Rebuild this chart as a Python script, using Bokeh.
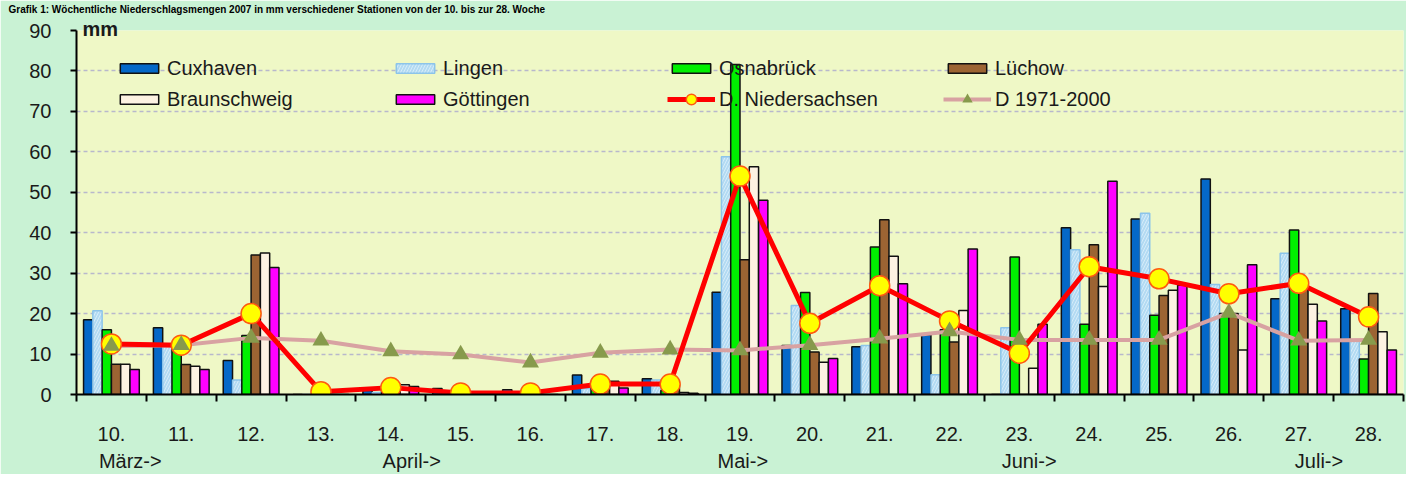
from bokeh.plotting import figure
from bokeh.models import (ColumnDataSource, FixedTicker, Legend, LegendItem, Range1d,
                          LinearAxis, Title)
from bokeh.transform import dodge
from bokeh.embed import file_html
from bokeh.resources import INLINE

title_text = "Grafik 1: Wöchentliche Niederschlagsmengen 2007 in mm verschiedener Stationen von der 10. bis zur 28. Woche"
weeks = ["10.", "11.", "12.", "13.", "14.", "15.", "16.", "17.", "18.", "19.",
         "20.", "21.", "22.", "23.", "24.", "25.", "26.", "27.", "28."]
cuxhaven = [18.5, 16.5, 8.4, 0, 1.0, 1.5, 1.2, 4.8, 3.9, 25.3, 12.1, 11.8, 14.8, 0, 41.2, 43.4, 53.3, 23.7, 21.2]
lingen = [20.7, 12.5, 3.6, 0, 0.5, 0, 0, 1.5, 3.6, 58.8, 22.0, 12.1, 4.9, 16.5, 35.8, 44.8, 27.2, 34.9, 13.5]
osnabrueck = [16.0, 11.5, 14.6, 0, 1.5, 0, 0, 2.0, 1.0, 81.6, 25.2, 36.5, 16.0, 34.0, 17.4, 19.6, 20.0, 40.7, 8.8]
luechow = [7.5, 7.4, 34.5, 0, 2.6, 0, 0, 2.5, 2.5, 33.3, 10.5, 43.2, 13.0, 0, 37.0, 24.5, 20.0, 28.0, 25.0]
braunschweig = [7.5, 7.0, 35.0, 0, 2.4, 0, 0, 3.3, 0.5, 56.3, 8.0, 34.2, 20.8, 6.5, 26.7, 25.8, 11.0, 22.3, 15.5]
goettingen = [6.2, 6.2, 31.4, 0, 2.0, 0, 0, 1.6, 0.3, 48.0, 8.9, 27.4, 36.0, 17.4, 52.7, 27.0, 32.1, 18.2, 11.0]
niedersachsen = [12.5, 12.2, 20.0, 0.7, 1.7, 0.4, 0.4, 2.6, 2.6, 54.0, 17.6, 26.9, 18.2, 10.2, 31.6, 28.6, 24.9, 27.5, 19.2]
d1971_2000 = [12.0, 12.2, 14.0, 13.3, 10.7, 9.9, 7.9, 10.3, 11.1, 10.9, 12.2, 13.8, 15.6, 13.5, 13.5, 13.5, 20.2, 13.3, 13.5]
months = ["März->", "April->", "Mai->", "Juni->", "Juli->"]
month_x = [0.27, 4.3, 9.04, 13.14, 17.29]
unit_label = "mm"
unit_x = -0.16

FONT = "Liberation Sans"
TXT = "#1A1A1A"
xs = list(range(len(weeks)))
src = ColumnDataSource(dict(x=xs, cux=cuxhaven, lin=lingen, osn=osnabrueck, lue=luechow,
                            bra=braunschweig, goe=goettingen, nds=niedersachsen, clim=d1971_2000))

p = figure(width=1406, height=474, x_range=Range1d(-0.5, 18.5), y_range=Range1d(0, 90),
           output_backend="svg", toolbar_location=None,
           min_border_left=76, min_border_right=3, min_border_top=30, min_border_bottom=79)
p.background_fill_color = "#EFF8C6"
p.border_fill_color = "#C9F2D4"
p.outline_line_color = None

bw = 0.133
offs = [-2.5 * bw, -1.5 * bw, -0.5 * bw, 0.5 * bw, 1.5 * bw, 2.5 * bw]
r_cux = p.vbar(x=dodge('x', offs[0], range=p.x_range), top='cux', width=bw, source=src,
               fill_color="#0568C8", line_color="#111111", line_width=1.5)
r_lin = p.vbar(x=dodge('x', offs[1], range=p.x_range), top='lin', width=bw, source=src,
               fill_color="#B2DAF2", line_color="#8CC4EA", line_width=1.5,
               hatch_pattern="right_diagonal_line", hatch_color="#E6F4FC", hatch_alpha=0.7,
               hatch_scale=6, hatch_weight=1)
r_osn = p.vbar(x=dodge('x', offs[2], range=p.x_range), top='osn', width=bw, source=src,
               fill_color="#00F000", line_color="#111111", line_width=1.5)
r_lue = p.vbar(x=dodge('x', offs[3], range=p.x_range), top='lue', width=bw, source=src,
               fill_color="#9C6433", line_color="#111111", line_width=1.5)
r_bra = p.vbar(x=dodge('x', offs[4], range=p.x_range), top='bra', width=bw, source=src,
               fill_color="#FDF2E2", line_color="#111111", line_width=1.5)
r_goe = p.vbar(x=dodge('x', offs[5], range=p.x_range), top='goe', width=bw, source=src,
               fill_color="#FF00FF", line_color="#111111", line_width=1.5)

r_clim_line = p.line('x', 'clim', source=src, line_color="#D8A2A2", line_width=4)
r_nds_line = p.line('x', 'nds', source=src, line_color="#FF0000", line_width=5)
r_nds_pts = p.scatter('x', 'nds', source=src, marker="circle", size=20,
                      fill_color="#FFFF00", line_color="#FF5A10", line_width=1.5)
r_clim_pts = p.scatter('x', 'clim', source=src, marker="triangle", size=17,
                       fill_color="#879A4C", line_color=None)

# grid
p.xgrid.visible = False
p.ygrid.ticker = FixedTicker(ticks=list(range(10, 91, 10)))
p.ygrid.grid_line_color = "#B8B8CC"
p.ygrid.grid_line_dash = "4 3"
p.ygrid.grid_line_width = 1.5

# y axis
ya = p.yaxis[0]
ya.ticker = FixedTicker(ticks=list(range(0, 91, 10)))
ya.axis_line_width = 2
ya.axis_line_color = "#000000"
ya.major_tick_out = 6
ya.major_tick_in = 0
ya.major_tick_line_width = 2
ya.minor_tick_line_color = None
ya.major_label_text_font = FONT
ya.major_label_text_font_size = "20px"
ya.major_label_text_color = TXT
ya.major_label_standoff = 19

# x axis (weeks)
xa = p.xaxis[0]
xa.ticker = FixedTicker(ticks=xs, minor_ticks=[i - 0.5 for i in range(len(weeks) + 1)])
xa.major_label_overrides = {i: w for i, w in enumerate(weeks)}
xa.axis_line_width = 2
xa.axis_line_color = "#000000"
xa.major_tick_line_color = None
xa.major_tick_out = 0
xa.major_tick_in = 0
xa.minor_tick_out = 7
xa.minor_tick_in = 0
xa.minor_tick_line_width = 2
xa.minor_tick_line_color = "#000000"
xa.major_label_text_font = FONT
xa.major_label_text_font_size = "20px"
xa.major_label_text_color = TXT
xa.major_label_standoff = 25

# month axis (second row below)
max_ = LinearAxis(ticker=FixedTicker(ticks=month_x),
                  major_label_overrides={mx: m for mx, m in zip(month_x, months)})
max_.axis_line_color = None
max_.major_tick_line_color = None
max_.minor_tick_line_color = None
max_.major_tick_out = 0
max_.major_tick_in = 0
max_.major_label_text_font = FONT
max_.major_label_text_font_size = "20px"
max_.major_label_text_color = TXT
max_.major_label_standoff = 6
p.add_layout(max_, "below")

# unit label "mm" at the top of the y axis
ua = LinearAxis(ticker=FixedTicker(ticks=[unit_x]), major_label_overrides={unit_x: unit_label})
ua.axis_line_color = None
ua.major_tick_line_color = None
ua.minor_tick_line_color = None
ua.major_tick_out = 0
ua.major_tick_in = 0
ua.major_label_text_font = FONT
ua.major_label_text_font_size = "20px"
ua.major_label_text_font_style = "bold"
ua.major_label_text_color = TXT
ua.major_label_standoff = -9
p.add_layout(ua, "above")

# title (in the source image it is cut off at the top edge)
t = Title(text=title_text, align="left", offset=-68, standoff=0,
          text_font=FONT, text_font_size="10px", text_font_style="bold", text_color="#000000")
p.add_layout(t, "above")

# legends
def make_legend(items, x, y, gh):
    leg = Legend(items=items, orientation="horizontal", location=(x, y))
    leg.glyph_width = 48
    leg.glyph_height = gh
    leg.label_standoff = 4
    leg.label_width = 219
    leg.label_height = 30
    leg.spacing = 5
    leg.padding = 0
    leg.margin = 0
    leg.border_line_color = None
    leg.background_fill_alpha = 0
    leg.label_text_font = FONT
    leg.label_text_font_size = "20px"
    leg.label_text_color = TXT
    p.add_layout(leg)
    return leg

make_legend([LegendItem(label="Cuxhaven", renderers=[r_cux]),
             LegendItem(label="Lingen", renderers=[r_lin]),
             LegendItem(label="Osnabrück", renderers=[r_osn]),
             LegendItem(label="Lüchow", renderers=[r_lue])], 39, 311, 12)
make_legend([LegendItem(label="Braunschweig", renderers=[r_bra]),
             LegendItem(label="Göttingen", renderers=[r_goe])], 39, 280, 12)
make_legend([LegendItem(label="D. Niedersachsen", renderers=[r_nds_line, r_nds_pts]),
             LegendItem(label="D 1971-2000", renderers=[r_clim_line, r_clim_pts])], 591, 280, 26)

open("out.html", "w").write(file_html(p, INLINE))
